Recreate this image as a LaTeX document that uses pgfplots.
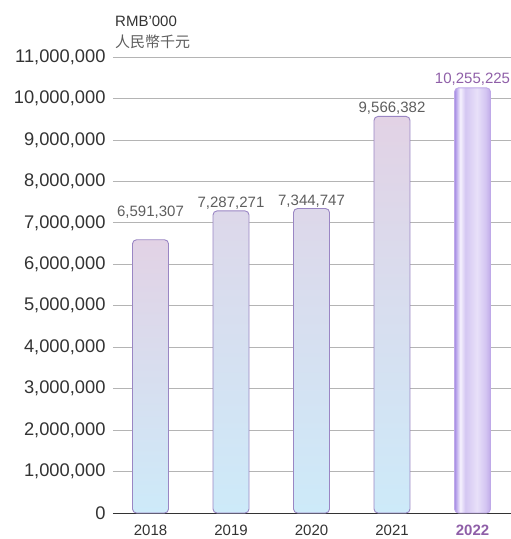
\documentclass[border=0pt]{standalone}
\usepackage{pgfplots}
\pgfplotsset{compat=1.18}
\usepackage{fontspec}
\setmainfont{Liberation Sans}
\newfontfamily\cjk{Noto Sans CJK TC}
\definecolor{tickc}{HTML}{333333}
\definecolor{labc}{HTML}{5E5E5E}
\definecolor{gridc}{HTML}{B4B4B4}
\definecolor{barTop}{HTML}{E2D2E5}
\definecolor{barBot}{HTML}{CDEAF9}
\definecolor{barEdge}{HTML}{9A86C4}
\definecolor{purp}{HTML}{8F5FA8}
\definecolor{cylA}{HTML}{A48AE4}
\definecolor{cylB}{HTML}{F6F2FE}
\definecolor{cylC}{HTML}{D4C6F2}
\definecolor{cylD}{HTML}{E8E0F9}
\definecolor{cylE}{HTML}{BFA9E8}
\pgfdeclarehorizontalshading{cyl}{100bp}{color(0bp)=(cylA); color(25bp)=(cylA); color(33bp)=(cylB); color(40bp)=(cylC); color(56bp)=(cylD); color(68bp)=(cylC); color(75bp)=(cylE); color(100bp)=(cylE)}
\begin{document}
\begin{tikzpicture}
\useasboundingbox (-113pt,-26pt) rectangle (398pt,513pt);
\begin{axis}[
  scale only axis, width=398pt, height=456pt,
  xmin=-0.466, xmax=4.478, ymin=0, ymax=11000000,
  xtick={0,1,2,3,4},
  xticklabels={2018,2019,2020,2021,{\textbf{\color{purp}2022}}},
  ytick={0,1000000,2000000,3000000,4000000,5000000,6000000,7000000,8000000,9000000,10000000,11000000},
  yticklabels={0,{1,000,000},{2,000,000},{3,000,000},{4,000,000},{5,000,000},{6,000,000},{7,000,000},{8,000,000},{9,000,000},{10,000,000},{11,000,000}},
  scaled y ticks=false,
  /pgf/number format/assume math mode=true,
  axis lines=left, axis line style={-},
  y axis line style={draw=none},
  x axis line style={draw=tickc, line width=0.9pt},
  major tick length=0pt,
  ymajorgrids, grid style={gridc, line width=0.8pt},
  yticklabel style={font=\fontsize{18.3}{20}\selectfont, text=tickc, xshift=-4pt},
  xticklabel style={font=\fontsize{15}{18}\selectfont, text=tickc, yshift=-8pt},
  clip=false,
  point meta=explicit symbolic,
  nodes near coords,
  every node near coord/.append style={font=\fontsize{15}{18}\selectfont, text=labc, anchor=base, inner sep=0pt},
]
\addplot[ybar, bar width=36pt, bar shift=0pt, draw=barEdge, line width=0.9pt, rounded corners=4pt,
  top color=barTop, bottom color=barBot,
  every node near coord/.append style={yshift=23pt}]
  coordinates {(0,6591307) [6,591,307]};
\addplot[ybar, bar width=36pt, bar shift=0pt, draw=barEdge, line width=0.9pt, rounded corners=4pt,
  top color=barTop, bottom color=barBot,
  every node near coord/.append style={yshift=3.5pt}]
  coordinates {(1,7287271) [7,287,271] (2,7344747) [7,344,747] (3,9566382) [9,566,382]};
\addplot[ybar, bar width=36pt, bar shift=0pt, draw=cylE, line width=0.9pt, rounded corners=4pt,
  shading=cyl,
  every node near coord/.append style={yshift=4pt, text=purp}]
  coordinates {(4,10255225) [10,255,225]};
\end{axis}
\node[anchor=base west, font=\fontsize{15}{18}\selectfont, text=tickc, inner sep=0pt] at (2pt,486pt) {RMB’000};
\node[anchor=base west, font=\cjk\fontsize{15}{18}\selectfont, text=labc, inner sep=0pt] at (2pt,465pt) {人民幣千元};
\end{tikzpicture}
\end{document}
